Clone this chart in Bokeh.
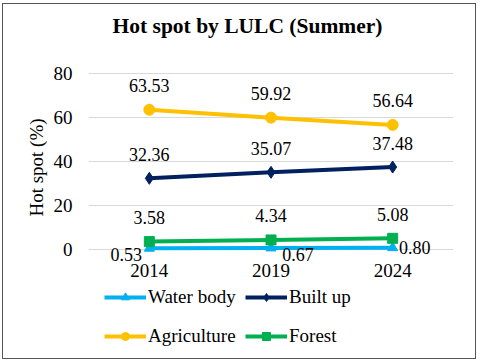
from bokeh.plotting import figure
from bokeh.layouts import column, row
from bokeh.models import (ColumnDataSource, Range1d, FixedTicker, Legend, LegendItem,
                          Label, LabelSet, FactorRange, Spacer)
from bokeh.embed import file_html
from bokeh.resources import INLINE

# ---- data ----
years = ["2014", "2019", "2024"]
water_body = [0.53, 0.67, 0.80]
built_up = [32.36, 35.07, 37.48]
agriculture = [63.53, 59.92, 56.64]
forest = [3.58, 4.34, 5.08]
series_names = ["Water body", "Built up", "Agriculture", "Forest"]
y_ticks = [0, 20, 40, 60, 80]
title_text = "Hot spot by LULC (Summer)"
y_label = "Hot spot (%)"

# ---- styles ----
FONT = "Liberation Serif"
colors = ["#00B0F0", "#002060", "#FFC000", "#00B050"]
markers = ["triangle", "diamond", "circle", "square"]
marker_sizes = [10, 12, 11, 10]
legend_marker_sizes = [8, 10, 9, 8]
label_dx = [[-23, 27, 22], [0, 0, 0], [0, 0, 0], [0, 0, 0]]
label_dy = [[-6, -6, 0], [24, 24, 24], [24, 24, 24], [24, 24, 24]]


def bare(fig):
    fig.outline_line_color = None
    fig.xgrid.visible = False
    fig.ygrid.visible = False
    fig.background_fill_color = "white"
    fig.border_fill_color = "white"


# ---- title strip ----
pt = figure(width=472, height=50, x_range=Range1d(0, 365), y_range=Range1d(0, 50),
            output_backend="svg", toolbar_location=None,
            x_axis_location=None, y_axis_location=None,
            min_border_left=85, min_border_right=22, min_border_top=0, min_border_bottom=0)
bare(pt)
pt.add_layout(Label(x=159, y=29, text=title_text, text_font=FONT, text_font_size="21.5px",
                    text_font_style="bold", text_align="center", text_baseline="middle",
                    text_color="#000000"))

# ---- chart ----
p = figure(width=472, height=231,
           x_range=FactorRange(*years),
           y_range=Range1d(-6.818, 81.364),
           output_backend="svg", toolbar_location=None,
           min_border_left=85, min_border_right=22,
           min_border_top=16, min_border_bottom=21)
p.outline_line_color = None
p.background_fill_color = "white"
p.border_fill_color = "white"

for ax in (p.xaxis[0], p.yaxis[0]):
    ax.axis_line_color = None
    ax.major_tick_line_color = None
    ax.minor_tick_line_color = None
    ax.major_tick_out = 0
    ax.major_tick_in = 0
    ax.major_label_text_font = FONT
    ax.major_label_text_font_size = "19px"
    ax.major_label_text_color = "#000000"
p.xaxis.major_label_standoff = -1
p.yaxis.ticker = FixedTicker(ticks=y_ticks)
p.yaxis.major_label_standoff = 16
p.yaxis.axis_label = y_label
p.yaxis.axis_label_text_font = FONT
p.yaxis.axis_label_text_font_size = "19px"
p.yaxis.axis_label_text_font_style = "normal"
p.yaxis.axis_label_text_color = "#000000"
p.yaxis.axis_label_standoff = 4

p.xgrid.grid_line_color = None
p.ygrid.ticker = FixedTicker(ticks=y_ticks)
p.ygrid.grid_line_color = "#D9D9D9"
p.ygrid.grid_line_width = 1

# ---- legend strip (series drawn off-range so only the legend shows) ----
pl = figure(width=472, height=73, x_range=FactorRange(*years), y_range=Range1d(1000, 1001),
            output_backend="svg", toolbar_location=None,
            x_axis_location=None, y_axis_location=None,
            min_border_left=85, min_border_right=22, min_border_top=0, min_border_bottom=0)
bare(pl)

all_series = [water_body, built_up, agriculture, forest]
legend_items = []
lx, ly, lt, ldx, ldy = [], [], [], [], []
for i, vals in enumerate(all_series):
    p.line(years, vals, line_color=colors[i], line_width=4)
    p.scatter(years, vals, marker=markers[i], size=marker_sizes[i],
              fill_color=colors[i], line_color=colors[i])
    gl = pl.line(years, vals, line_color=colors[i], line_width=4)
    gm = pl.scatter(years, vals, marker=markers[i], size=legend_marker_sizes[i],
                    fill_color=colors[i], line_color=colors[i])
    legend_items.append(LegendItem(label=series_names[i], renderers=[gl, gm]))
    for j, v in enumerate(vals):
        lx.append(years[j]); ly.append(v); lt.append("%.2f" % v)
        ldx.append(label_dx[i][j]); ldy.append(label_dy[i][j])

src = ColumnDataSource(dict(x=lx, y=ly, t=lt, dx=ldx, dy=ldy))
p.add_layout(LabelSet(x="x", y="y", text="t", source=src, x_offset="dx", y_offset="dy",
                      text_align="center", text_baseline="middle",
                      text_font=FONT, text_font_size="18px", text_color="#000000"))

# two legend columns: (Water body, Agriculture) and (Built up, Forest)
for col_items, xloc in (([legend_items[0], legend_items[2]], 16),
                        ([legend_items[1], legend_items[3]], 157)):
    lg = Legend(items=col_items, location=(xloc, 11), orientation="vertical",
                glyph_width=42, glyph_height=20, label_height=20, spacing=17,
                label_standoff=2, padding=0, margin=0,
                label_text_font=FONT, label_text_font_size="19px",
                label_text_font_style="normal",
                label_text_color="#000000",
                border_line_color=None, background_fill_alpha=0)
    pl.add_layout(lg, "center")

inner = column(pt, p, pl, spacing=0, styles={"border": "1px solid #555"})
layout = column(Spacer(height=3), row(Spacer(width=2), inner, spacing=0), spacing=0)

open("out.html", "w").write(file_html(layout, INLINE))
